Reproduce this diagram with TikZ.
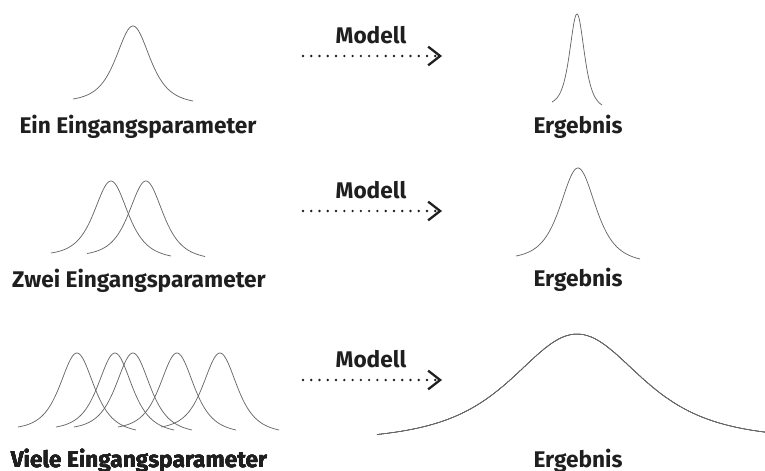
\documentclass[tikz,border=0pt]{standalone}
\usepackage{fontspec}
\setmainfont{Fira Sans}
\usetikzlibrary{arrows.meta}

% bell shaped curve: centre x, peak y, end y, half width, spread, tilt of the ends
\newcommand{\bellcurve}[6]{%
  \draw[curve] plot[domain=-#4:#4, samples=100, variable=\t, smooth]
    ({#1+\t}, {#3 + #6*\t/(2*#4) - (#3-#2)*(1/((1+(\t/#5)*(\t/#5))*(1+(\t/#5)*(\t/#5))) - 1/((1+(#4/#5)*(#4/#5))*(1+(#4/#5)*(#4/#5))))/(1 - 1/((1+(#4/#5)*(#4/#5))*(1+(#4/#5)*(#4/#5))))});
}

\tikzset{
  curve/.style={draw=black!60, line width=0.55pt},
  txt/.style={font=\bfseries\fontsize{17}{20}\selectfont, text=black!88, inner sep=0pt, anchor=base},
  flow/.style={black!88, line width=2pt, line cap=round, dash pattern=on 0pt off 6.2pt,
    -{Straight Barb[length=9pt,width=14pt,line width=1.7pt]}},
}

\begin{document}
\begin{tikzpicture}[x=0.75pt, y=-0.75pt]
\useasboundingbox (0,0) rectangle (765,471);

% one input
\bellcurve{133}{26}{100}{60}{31}{2}
\bellcurve{577}{14}{103.5}{25}{13.5}{3}
\node[txt] (in1) at (138,133) {Ein Eingangsparameter};
\node[txt] (out1) at (578,133) {Ergebnis};
\node[txt] (mod1) at (371,43) {Modell};
\coordinate (s1) at (303,56);
\coordinate (e1) at (442,56);
\draw[flow] (s1) -- (e1);

% two inputs
\bellcurve{111}{181}{254.5}{60}{31}{3}
\bellcurve{146}{181}{255}{59}{31}{3}
\bellcurve{578}{168}{257.5}{62}{32.5}{3}
\node[txt] (in2) at (139,287) {Zwei Eingangsparameter};
\node[txt] (out2) at (578,286) {Ergebnis};
\node[txt] (mod2) at (371,198) {Modell};
\coordinate (s2) at (303,211);
\coordinate (e2) at (442,211);
\draw[flow] (s2) -- (e2);

% many inputs
\foreach \c in {77,115,133,177,220}
  \bellcurve{\c}{353}{428.5}{59}{31}{3}
\begin{scope}[curve/.append style={line width=0.4pt}]
  \bellcurve{577}{334}{434}{200}{118}{-1}
\end{scope}
\node[txt] (in3) at (139,467) {Viele Eingangsparameter};
\node[txt] (out3) at (578,467) {Ergebnis};
\node[txt] (mod3) at (371,367) {Modell};
\coordinate (s3) at (303,380);
\coordinate (e3) at (442,380);
\draw[flow] (s3) -- (e3);
\end{tikzpicture}
\end{document}
